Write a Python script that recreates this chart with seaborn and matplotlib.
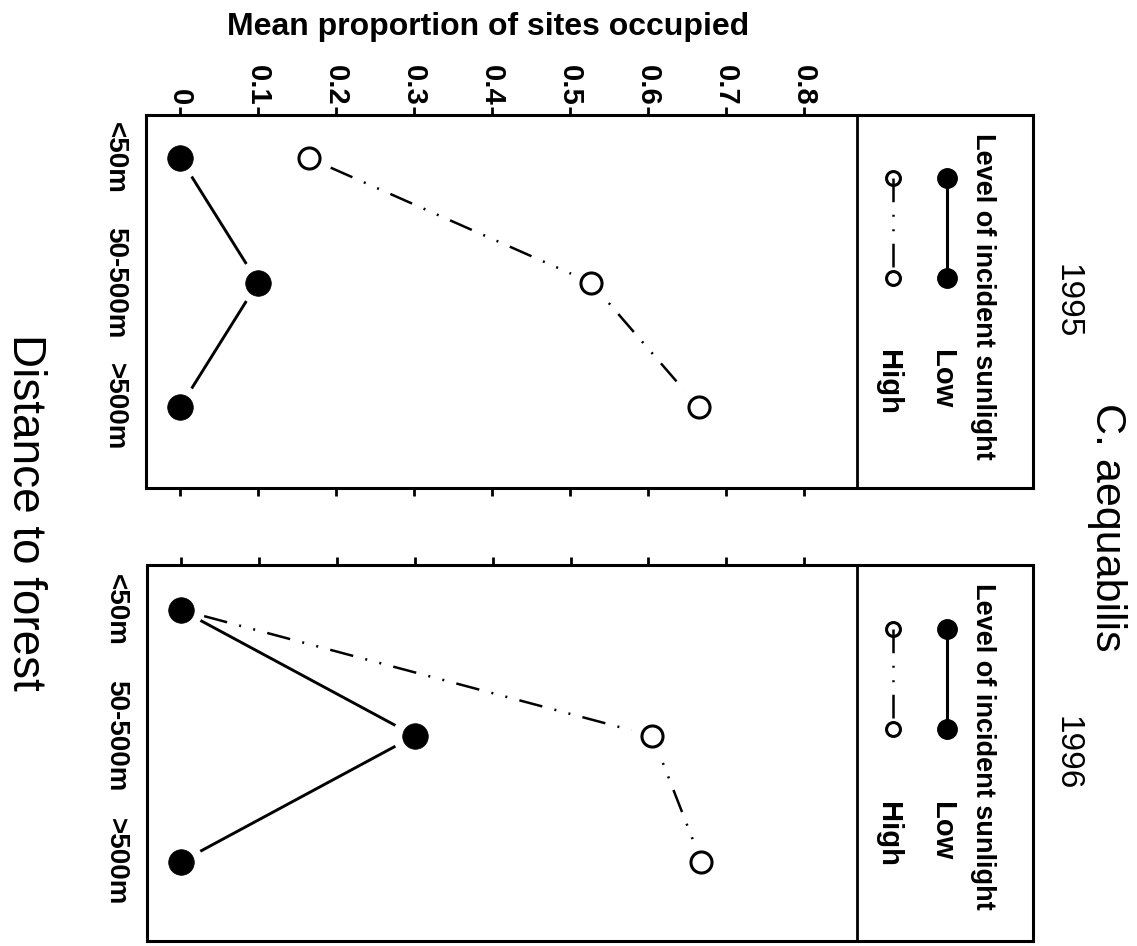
import numpy as np
import pandas as pd
import matplotlib
matplotlib.use("Agg")
import matplotlib.pyplot as plt
import seaborn as sns

# ---------------- data ----------------
categories = ["<50m", "50-500m", ">500m"]
low_1995 = [0.0, 0.10, 0.0]
high_1995 = [0.165, 0.527, 0.665]
low_1996 = [0.0, 0.30, 0.0]
high_1996 = [0.0, 0.605, 0.668]
years = ["1995", "1996"]
prop_ticks = [0, 0.1, 0.2, 0.3, 0.4, 0.5, 0.6, 0.7, 0.8]
prop_labels = ["0", "0.1", "0.2", "0.3", "0.4", "0.5", "0.6", "0.7", "0.8"]
legend_title = "Level of incident sunlight"
legend_labels = ["Low", "High"]

sns.set_style("white")
NARROW = ["Liberation Sans Narrow", "Liberation Sans", "DejaVu Sans"]
SANS = ["Liberation Sans", "DejaVu Sans"]
plt.rcParams["font.family"] = SANS
plt.rcParams["text.color"] = "black"
plt.rcParams["xtick.color"] = "black"
plt.rcParams["ytick.color"] = "black"
plt.rcParams["axes.labelcolor"] = "black"

W, H = 1137, 946
fig = plt.figure(figsize=(W / 100, H / 100), dpi=100)

def fx(px):
    return px / W

def fy(py):
    return 1 - py / H

ax1 = fig.add_axes([fx(146), fy(488), (1033 - 146) / W, (488 - 115) / H])
ax2 = fig.add_axes([fx(147), fy(941), (1033 - 147) / W, (941 - 565) / H])

pos = np.arange(len(categories))
PATTERN = (9.5, 5, 0.8, 5, 0.8, 5)
DASHDOTDOT_PLOT = (16.5, PATTERN)
DASHDOTDOT_LEG = (0, PATTERN)

panels = [(ax1, low_1995, high_1995, (2.65, -0.345)),
          (ax2, low_1996, high_1996, (2.63, -0.357))]

for i, (ax, low, high, ylim) in enumerate(panels):
    df = pd.DataFrame({"pos": pos, "low": low, "high": high})
    # lines
    sns.lineplot(data=df, x="low", y="pos", orient="y", sort=False, estimator=None,
                 color="k", linewidth=2.1, ax=ax)
    sns.lineplot(data=df, x="high", y="pos", orient="y", sort=False, estimator=None,
                 color="k", linewidth=1.8, linestyle=DASHDOTDOT_PLOT, ax=ax)
    # white gaps around points
    for col in ["high", "low"]:
        sns.scatterplot(data=df, x=col, y="pos", s=1000, color="white",
                        edgecolor="none", linewidth=0, zorder=3, ax=ax, legend=False)
    # markers
    sns.scatterplot(data=df, x="high", y="pos", s=230, color="white", edgecolor="k",
                    linewidth=2.2, zorder=4, ax=ax, legend=False)
    sns.scatterplot(data=df, x="low", y="pos", s=340, color="k", edgecolor="k",
                    linewidth=0.5, zorder=5, ax=ax, legend=False)

    ax.set_xlim(-0.0436, 1.0936)
    ax.set_ylim(*ylim)
    ax.set_xlabel("")
    ax.set_ylabel("")

    ax.set_xticks(prop_ticks)
    ax.set_xticklabels(prop_labels, rotation=270, fontsize=21, fontweight="bold",
                       family=SANS)
    ax.set_yticks(pos)
    ax.set_yticklabels(categories, rotation=270, fontsize=20, fontweight="bold",
                       family=SANS, va="center")
    ax.tick_params(axis="y", length=0, pad=13)
    if i == 0:
        ax.tick_params(axis="x", top=True, bottom=True, labeltop=True, labelbottom=False,
                       direction="out", length=6, width=2, pad=1, color="k")
    else:
        ax.tick_params(axis="x", top=True, bottom=False, labeltop=False, labelbottom=False,
                       direction="out", length=6, width=2, color="k")
    for sp in ax.spines.values():
        sp.set_visible(True)
        sp.set_color("k")
        sp.set_linewidth(2.2)

    # legend panel separator
    ax.axvline(0.868, color="k", linewidth=2.0, zorder=2)

    # legend (drawn in axes fraction)
    ax.text(0.9436, 0.952, legend_title, transform=ax.transAxes, rotation=270,
            ha="center", va="top", fontsize=19.5, fontweight="bold", family=NARROW)
    ax.plot([0.903, 0.903], [0.831, 0.563], transform=ax.transAxes, color="k",
            linewidth=2.2, marker="o", markersize=14, zorder=5)
    ax.plot([0.842, 0.842], [0.831, 0.563], transform=ax.transAxes, color="k",
            linewidth=1.8, linestyle=DASHDOTDOT_LEG, marker="o", markersize=10,
            markerfacecolor="none", markeredgecolor="k", markeredgewidth=2.2, zorder=5)
    ax.text(0.897, 0.37, legend_labels[0], transform=ax.transAxes, rotation=270,
            ha="center", va="top", fontsize=21, fontweight="bold", family=NARROW)
    ax.text(0.836, 0.37, legend_labels[1], transform=ax.transAxes, rotation=270,
            ha="center", va="top", fontsize=21, fontweight="bold", family=NARROW)

    # year label
    ax.text(1.038, 0.5, years[i], transform=ax.transAxes, rotation=270,
            ha="center", va="center", fontsize=24, family=NARROW, clip_on=False)

fig.text(fx(488), fy(27), "Mean proportion of sites occupied", ha="center", va="center",
         fontsize=23, fontweight="bold", family=SANS)
fig.text(fx(1107), fy(527), "C. aequabilis", rotation=270, ha="center", va="center",
         fontsize=31, family=NARROW)
fig.text(fx(25), fy(512), "Distance to forest", rotation=270, ha="center", va="center",
         fontsize=33, family=NARROW)

fig.savefig("out.png", dpi=100, facecolor="white")
